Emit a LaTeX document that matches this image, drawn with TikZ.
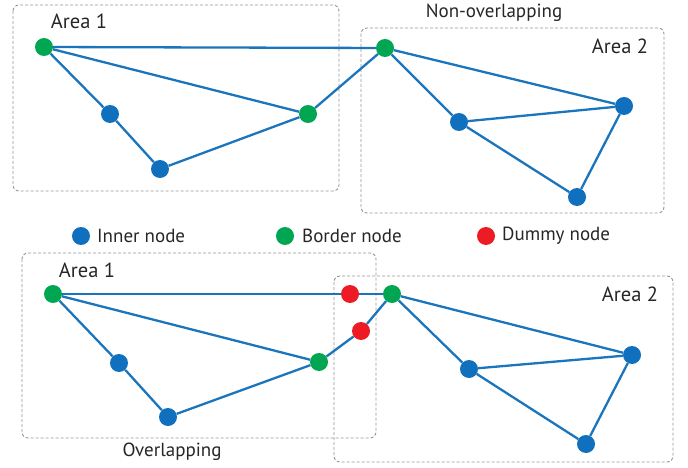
\documentclass[tikz,border=0pt]{standalone}
\usepackage{fontspec}
\setmainfont{PT Sans}
\definecolor{eblue}{RGB}{27,117,188}
\definecolor{nblue}{RGB}{16,112,190}
\definecolor{ngreen}{RGB}{0,166,81}
\definecolor{nred}{RGB}{237,28,36}
\definecolor{boxgray}{RGB}{150,150,150}
\tikzset{
  dot/.style={circle,inner sep=0pt,minimum size=18pt},
  inner/.style={dot,fill=nblue},
  border/.style={dot,fill=ngreen},
  dummy/.style={dot,fill=nred},
  edge/.style={draw=eblue,line width=2.3pt},
  area/.style={draw=boxgray,dashed,line width=0.9pt,dash pattern=on 3pt off 2pt,rounded corners=6pt},
  lbl/.style={font=\fontsize{20.5}{24}\selectfont,text=black!85,inner sep=0pt},
  slbl/.style={font=\fontsize{19}{22}\selectfont,text=black!85,inner sep=0pt},
  leg/.style={font=\fontsize{19}{22}\selectfont,text=black!85,inner sep=0pt,anchor=west}
}
\begin{document}
\begin{tikzpicture}[x=1pt,y=-1pt]
\useasboundingbox (0,0) rectangle (688,468);
% ---- top: non-overlapping ----
\draw[area] (13,5) rectangle (339,191);
\draw[area] (361,28) rectangle (664,213);
\node[lbl] (a1t) at (79,21) {Area 1};
\node[lbl] (a2t) at (620,46) {Area 2};
\node[slbl] (nonov) at (494,13) {Non-overlapping};
\node[border] (g1) at (44,47) {};
\node[inner] (b1) at (110,114) {};
\node[inner] (b2) at (160,169) {};
\node[border] (g2) at (308,114) {};
\node[border] (g3) at (385,48) {};
\node[inner] (b3) at (459,122) {};
\node[inner] (b4) at (624,106) {};
\node[inner] (b5) at (577,197) {};
\draw[edge] (g1) -- (g3);
\draw[edge] (g1) -- (b1);
\draw[edge] (g1) -- (g2);
\draw[edge] (b1) -- (b2);
\draw[edge] (b2) -- (g2);
\draw[edge] (g2) -- (g3);
\draw[edge] (g3) -- (b3);
\draw[edge] (g3) -- (b4);
\draw[edge] (b3) -- (b4);
\draw[edge] (b3) -- (b5);
\draw[edge] (b4) -- (b5);
% ---- legend ----
\node[inner] (li) at (81,236) {};
\node[leg] (lit) at (97,236) {Inner node};
\node[border] (lb) at (285,236) {};
\node[leg] (lbt) at (302,236) {Border node};
\node[dummy] (ld) at (486,236) {};
\node[leg] (ldt) at (502,236) {Dummy node};
% ---- bottom: overlapping ----
\draw[area] (22,253) rectangle (376,438);
\draw[area] (334,276) rectangle (673,462);
\node[lbl] (a1b) at (87,270) {Area 1};
\node[lbl] (a2b) at (630,294) {Area 2};
\node[slbl] (ov) at (172,452) {Overlapping};
\node[border] (g4) at (53,294) {};
\node[inner] (b6) at (119,363) {};
\node[inner] (b7) at (168,417) {};
\node[border] (g5) at (319,362) {};
\node[dummy] (r1) at (350,294) {};
\node[dummy] (r2) at (361,331) {};
\node[border] (g6) at (392,294) {};
\node[inner] (b8) at (469,369) {};
\node[inner] (b9) at (632,355) {};
\node[inner] (b10) at (586,444) {};
\draw[edge] (g4) -- (r1);
\draw[edge] (r1) -- (g6);
\draw[edge] (g4) -- (b6);
\draw[edge] (g4) -- (g5);
\draw[edge] (b6) -- (b7);
\draw[edge] (b7) -- (g5);
\draw[edge] (g5) -- (r2);
\draw[edge] (r2) -- (g6);
\draw[edge] (g6) -- (b8);
\draw[edge] (g6) -- (b9);
\draw[edge] (b8) -- (b9);
\draw[edge] (b8) -- (b10);
\draw[edge] (b9) -- (b10);
\end{tikzpicture}
\end{document}
